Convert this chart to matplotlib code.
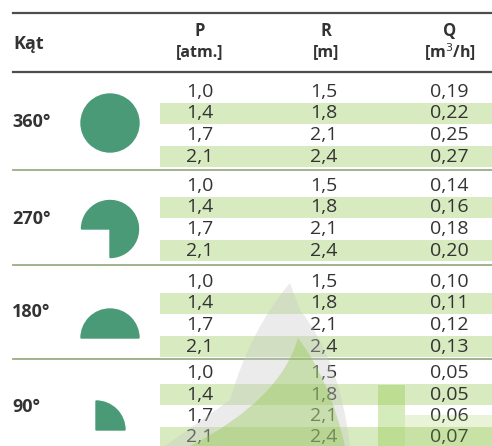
import matplotlib.pyplot as plt
from matplotlib.patches import Circle, Wedge, Rectangle, PathPatch
from matplotlib.path import Path

plt.rcParams['font.family'] = ['Open Sans', 'DejaVu Sans']

# table data
angles = ["360°", "270°", "180°", "90°"]
pressure = ["1,0", "1,4", "1,7", "2,1"]
radius = ["1,5", "1,8", "2,1", "2,4"]
flow = [
    ["0,19", "0,22", "0,25", "0,27"],
    ["0,14", "0,16", "0,18", "0,20"],
    ["0,10", "0,11", "0,12", "0,13"],
    ["0,05", "0,05", "0,06", "0,07"],
]

green = "#4a9a78"
band = "#d8eabf"
txt = "#333333"

fig = plt.figure(figsize=(4.92, 4.46), dpi=100)
ax = fig.add_axes([0, 0, 1, 1])
ax.set_xlim(0, 492)
ax.set_ylim(446, 0)
ax.axis("off")

# header
ax.plot([13, 492], [13, 13], color="#4d4d4d", lw=1.6)
ax.plot([13, 492], [72, 72], color="#4d4d4d", lw=1.6)
ax.text(13, 44, "Kąt", fontsize=13, fontweight="bold", color=txt, va="center")
for x, a, b in [(200, "P", "[atm.]"), (326, "R", "[m]"), (450, "Q", "[m$^3$/h]")]:
    ax.text(x, 31, a, fontsize=12, fontweight="bold", color=txt, ha="center", va="center")
    ax.text(x, 52, b, fontsize=11.5, fontweight="bold", color=txt, ha="center", va="center")

first_rows = [92, 186, 282, 373]
seps = [170, 265, 359]
label_y = [122, 219, 312, 407]
pitch = 21.5

for s in range(4):
    for i in range(4):
        y = first_rows[s] + i * pitch
        if i % 2 == 1:
            ax.add_patch(Rectangle((160, y - 10.5), 332, 21, color=band, lw=0, zorder=0))
        ax.text(200, y, pressure[i], fontsize=14, color=txt, ha="center", va="center")
        ax.text(324, y, radius[i], fontsize=14, color=txt, ha="center", va="center")
        ax.text(449, y, flow[s][i], fontsize=14, color=txt, ha="center", va="center")
    ax.text(12, label_y[s], angles[s], fontsize=13, fontweight="bold", color=txt, va="center")

for y in seps:
    ax.plot([13, 492], [y, y], color="#9aad86", lw=1.3)

# sector symbols
ax.add_patch(Circle((110, 123), 29, color=green))
ax.add_patch(Wedge((110, 229), 28.5, 180, 450, color=green))
ax.add_patch(Wedge((110, 338), 29, 180, 360, color=green))
ax.add_patch(Wedge((96, 430), 29, 270, 360, color=green))

# faint logo watermark (flame + letter)
C3, C4 = Path.CURVE3, Path.CURVE4
flame = Path([(290, 283), (250, 330), (230, 400), (165, 446), (350, 446),
              (340, 360), (300, 310), (290, 283)],
             [Path.MOVETO, C3, C3, Path.LINETO, Path.LINETO, C3, C3, Path.CLOSEPOLY])
ax.add_patch(PathPatch(flame, facecolor="#c8c8c8", alpha=0.35, lw=0, zorder=3))
inner = Path([(298, 338), (280, 400), (190, 446), (345, 446), (330, 380), (298, 338), (298, 338)],
             [Path.MOVETO, C3, C3, Path.LINETO, C3, C3, Path.CLOSEPOLY])
ax.add_patch(PathPatch(inner, facecolor="#8cc63f", alpha=0.35, lw=0, zorder=3))
ax.add_patch(Rectangle((378, 385), 27, 61, color="#8cc63f", alpha=0.35, lw=0, zorder=3))
ax.add_patch(Rectangle((405, 415), 87, 31, color="#8cc63f", alpha=0.2, lw=0, zorder=3))

plt.savefig("out.png", dpi=100)
